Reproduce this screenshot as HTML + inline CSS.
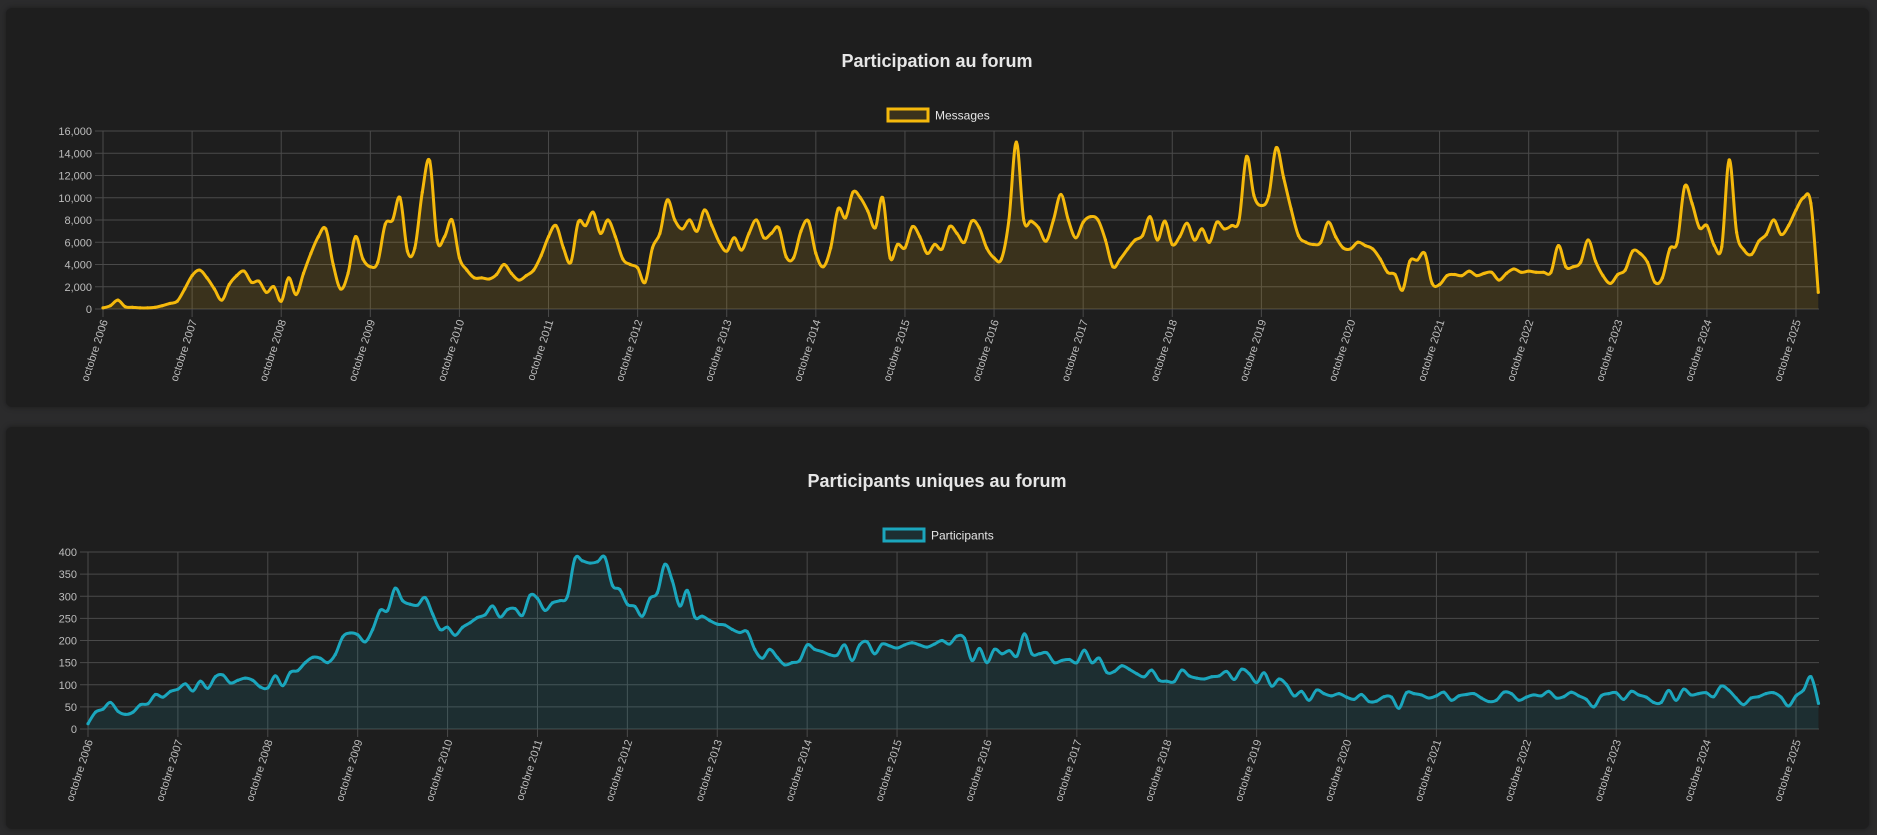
<!DOCTYPE html>
<html><head><meta charset="utf-8">
<style>
html,body{margin:0;padding:0;background:#2b2b2c;width:1877px;height:835px;overflow:hidden;font-family:"Liberation Sans",Arial,sans-serif;}
.card{position:absolute;left:6px;width:1863px;background:#1e1e1e;border-radius:6px;box-shadow:0 0 6px rgba(0,0,0,0.4);}
svg{position:absolute;left:0;top:0;}
</style></head>
<body>
<div class="card" style="top:8px;height:399px;"></div>
<div class="card" style="top:427px;height:402px;"></div>
<svg id="svg" width="1877" height="835"></svg>
<script>
const messagesValues=[
100,300,800,200,150,100,100,150,300,500,700,1800,
3000,3500,2800,1800,800,2200,3000,3400,2400,2500,1500,2000,
700,2800,1300,3200,5000,6500,7200,4000,1800,3200,6500,4500,
3800,4200,7600,8000,10000,5200,5500,10500,13300,6200,6500,8000,
4600,3500,2800,2800,2700,3100,4000,3200,2600,3000,3500,4800,
6500,7500,5500,4200,7800,7500,8700,6800,8000,6500,4500,4000,
3700,2400,5500,6800,9800,8000,7200,8000,7000,8900,7500,6000,
5200,6400,5300,6800,8000,6400,6800,7300,4700,4600,7000,7900,
5000,3800,5500,9000,8200,10500,10000,8800,7300,10000,4600,5800,
5500,7400,6500,5000,5800,5400,7400,6800,6000,7900,7300,5500,
4600,4500,8000,15000,8000,7900,7300,6100,8000,10300,8000,6400,
7800,8300,8000,6200,3800,4500,5400,6200,6600,8300,6200,7900,
5800,6500,7700,6200,7200,6000,7800,7200,7500,8000,13700,10200,
9300,10200,14500,11800,9000,6600,6000,5800,6000,7800,6500,5500,
5400,6000,5700,5400,4500,3300,3100,1700,4300,4400,5000,2300,
2200,3000,3100,3000,3400,3000,3200,3300,2600,3200,3600,3300,
3400,3300,3300,3300,5700,3800,3800,4200,6200,4300,3000,2300,
3100,3500,5200,5000,4200,2400,2800,5400,6000,11000,9500,7300,
7500,5700,5600,13400,6900,5300,4900,6100,6700,8000,6700,7500,
8900,10000,9500,1500];
const participantsValues=[
12,38,45,60,40,33,38,55,57,78,72,85,
90,102,86,108,92,118,122,104,110,115,110,95,
93,120,98,128,132,150,162,160,150,168,208,217,
213,197,225,268,268,318,290,282,280,297,260,225,
230,212,230,240,252,258,278,253,270,272,257,302,
295,268,285,290,300,385,380,375,378,388,325,315,
282,277,255,295,308,372,335,278,313,253,255,245,
237,235,225,218,220,180,160,180,162,145,150,155,
190,180,175,168,167,190,155,190,197,170,192,188,
183,190,195,190,185,192,200,192,210,205,155,182,
150,180,170,177,165,215,170,170,172,150,155,157,
150,178,150,160,128,130,143,135,125,118,133,110,
108,107,133,120,115,113,118,120,130,112,135,125,
105,127,97,113,100,75,85,65,88,80,75,80,
72,67,78,62,63,73,72,47,82,80,77,70,
75,83,65,75,78,80,70,62,65,83,80,65,
72,77,75,85,70,73,83,75,67,50,75,80,
82,67,85,77,72,60,60,87,65,90,77,80,
82,73,97,88,70,55,70,73,80,82,72,52,
75,88,118,58];
const yearLabels=["2006","2007","2008","2009","2010","2011","2012","2013","2014","2015","2016","2017","2018","2019","2020","2021","2022","2023","2024","2025"];
const msgTicks=[0,2000,4000,6000,8000,10000,12000,14000,16000];
const partTicks=[0,50,100,150,200,250,300,350,400];

const NS="http://www.w3.org/2000/svg";
const svg=document.getElementById('svg');
function el(tag,attrs,parent){const e=document.createElementNS(NS,tag);for(const k in attrs)e.setAttribute(k,attrs[k]);(parent||svg).appendChild(e);return e;}
function fmt(v){return v.toLocaleString('en-US');}

function drawChart(cfg){
  const g=el('g',{});
  
  
  const n=cfg.values.length;
  const x=i=>cfg.left+(cfg.tickEnd-cfg.left)*i/228;
  const ymax=cfg.ticks[cfg.ticks.length-1];
  const y=v=>cfg.bottom-(cfg.bottom-cfg.top)*v/ymax;
  const t=el('text',{x:937,y:cfg.titleY,'text-anchor':'middle',fill:'#e6e6e6','font-size':'18','font-weight':'bold'},g);
  t.textContent=cfg.title;
  
  
  const lg=el('g',{},g);
  
  
  el('rect',{x:cfg.legX,y:cfg.legY,width:40,height:12,fill:cfg.fill,stroke:cfg.color,'stroke-width':3},lg);
  const lt=el('text',{x:cfg.legX+47,y:cfg.legY+10.5,fill:'#e6e6e6','font-size':'12'},lg);
  lt.textContent=cfg.label;
  cfg.ticks.forEach(v=>{
    const yy=y(v);
    const ln=el('line',{x1:cfg.left-8,x2:cfg.right,y1:yy,y2:yy,stroke:'#4a4a4a','stroke-width':1},g);
    
    
    const tx=el('text',{x:cfg.left-11,y:yy+4,'text-anchor':'end',fill:'#bdbdbd','font-size':'11'},g);
    tx.textContent=fmt(v);
    
    
  });
  yearLabels.forEach((yl,k)=>{
    const xx=x(k*12);
    const ln=el('line',{x1:xx,x2:xx,y1:cfg.top,y2:cfg.bottom+8,stroke:'#4a4a4a','stroke-width':1},g);
    
    
    const tx=el('text',{x:0,y:0,'text-anchor':'end',fill:'#bdbdbd','font-size':'11',transform:`translate(${xx+5},${cfg.bottom+12}) rotate(-72)`},g);
    tx.textContent='octobre '+yl;
    
    
  });
  const pts=cfg.values.map((v,i)=>[x(i),y(v)]);
  let d=`M${pts[0][0]},${pts[0][1]}`;
  const tn=0.35;
  for(let i=0;i<n-1;i++){
    const p0=pts[Math.max(0,i-1)],p1=pts[i],p2=pts[i+1],p3=pts[Math.min(n-1,i+2)];
    const c1=[p1[0]+(p2[0]-p0[0])*tn/2,p1[1]+(p2[1]-p0[1])*tn/2];
    const c2=[p2[0]-(p3[0]-p1[0])*tn/2,p2[1]-(p3[1]-p1[1])*tn/2];
    d+=` C${c1[0]},${c1[1]} ${c2[0]},${c2[1]} ${p2[0]},${p2[1]}`;
  }
  const area=el('path',{d:d+` L${pts[n-1][0]},${cfg.bottom} L${pts[0][0]},${cfg.bottom} Z`,fill:cfg.fill,stroke:'none'},g);
  
  
  const line=el('path',{d:d,fill:'none',stroke:cfg.color,'stroke-width':3,'stroke-linejoin':'round'},g);
  
  
  pts.forEach(p=>{
    const c=el('circle',{cx:p[0],cy:p[1],r:1.6,fill:cfg.color},g);
    
    
  });
}
drawChart({name:'messages',title:'Participation au forum',label:'Messages',values:messagesValues,ticks:msgTicks,
  left:103,tickEnd:1796,right:1819,top:131,bottom:309,titleY:67,legX:888,legY:109,color:'#f5b90c',fill:'rgba(245,185,12,0.13)'});
drawChart({name:'participants',title:'Participants uniques au forum',label:'Participants',values:participantsValues,ticks:partTicks,
  left:88,tickEnd:1796,right:1819,top:552,bottom:729,titleY:487,legX:884,legY:529,color:'#1ba6bd',fill:'rgba(27,166,189,0.12)'});
</script>
</body></html>
